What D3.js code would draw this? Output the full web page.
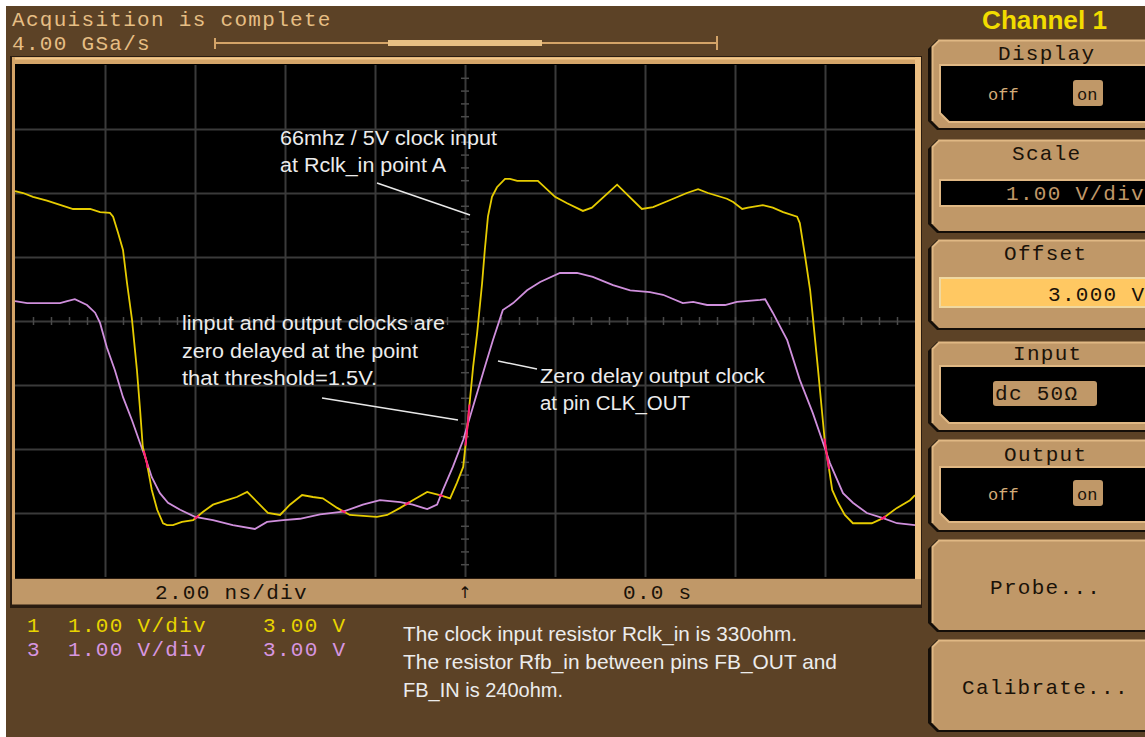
<!DOCTYPE html>
<html>
<head>
<meta charset="utf-8">
<script src="https://cdn.jsdelivr.net/npm/d3@7"></script>
<style>
  html, body { margin: 0; padding: 0; background: #5c4226; }
  svg { display: block; }
  .mono { font-family: "Liberation Mono", "DejaVu Sans Mono", monospace; font-size: 21px; letter-spacing: 1.3px; }
  .note { font-family: "Liberation Sans", Arial, sans-serif; fill: #ececec; }
</style>
</head>
<body>
<div id="scope"></div>
<script>
// channel 1 (yellow) - time in ns, level in V
const ch1Time = [-10.00,-9.82,-9.60,-9.29,-8.93,-8.71,-8.33,-8.11,-7.89,-7.82,-7.71,-7.60,-7.51,-7.40,-7.29,-7.22,-7.16,-7.07,-6.96,-6.84,
  -6.71,-6.62,-6.49,-6.29,-6.04,-5.82,-5.60,-5.29,-5.07,-4.84,-4.60,-4.38,-4.11,-3.89,-3.62,-3.38,-3.16,-2.84,-2.56,-1.96,
  -1.73,-1.44,-1.16,-0.84,-0.56,-0.33,-0.18,-0.04,0.04,0.11,0.18,0.27,0.38,0.44,0.51,0.60,0.71,0.89,1.00,1.16,
  1.62,2.00,2.27,2.62,2.82,3.38,3.93,4.18,4.56,4.93,5.18,5.40,5.82,5.96,6.16,6.29,6.62,6.84,7.07,7.38,
  7.44,7.56,7.67,7.73,7.84,7.93,8.00,8.07,8.16,8.29,8.44,8.62,9.04,9.29,9.60,9.89,10.00];
const ch1Volts = [5.03,5.00,4.94,4.88,4.80,4.75,4.75,4.70,4.69,4.63,4.38,4.11,3.59,3.02,2.23,1.61,1.03,0.78,0.36,0.05,
  -0.16,-0.19,-0.19,-0.14,-0.11,0.02,0.13,0.20,0.25,0.33,0.16,0.00,-0.03,0.13,0.28,0.25,0.23,0.08,-0.03,-0.06,
  -0.03,0.08,0.20,0.33,0.28,0.23,0.47,0.72,1.25,1.77,2.28,2.81,3.59,4.11,4.63,4.94,5.09,5.22,5.22,5.19,
  5.19,4.94,4.84,4.72,4.77,5.13,4.75,4.78,4.89,5.00,5.06,5.00,4.91,4.86,4.75,4.77,4.81,4.77,4.70,4.63,
  4.53,4.00,3.48,3.06,2.28,1.61,1.09,0.78,0.36,0.16,-0.03,-0.16,-0.16,-0.08,0.08,0.20,0.28];

// channel 3 (violet)
const ch3Time = [-10.00,-9.73,-9.00,-8.84,-8.67,-8.40,-8.22,-8.11,-7.96,-7.78,-7.60,-7.40,-7.22,-7.11,-6.96,-6.78,-6.60,-6.33,-6.00,-5.60,
  -5.16,-4.67,-4.40,-4.04,-3.67,-3.22,-2.71,-2.27,-1.89,-1.44,-1.16,-0.84,-0.62,-0.49,-0.27,-0.04,0.11,0.27,0.44,0.62,
  0.84,1.07,1.38,1.67,2.11,2.49,2.84,3.29,3.67,4.11,4.40,4.84,5.07,5.38,5.78,6.04,6.56,6.67,6.84,7.16,
  7.44,7.73,7.96,8.11,8.40,8.62,8.93,9.29,9.60,10.00];
const ch3Volts = [3.31,3.28,3.28,3.31,3.34,3.25,3.13,2.97,2.59,2.23,1.81,1.45,1.09,0.88,0.56,0.31,0.16,0.05,-0.06,-0.11,
  -0.19,-0.25,-0.14,-0.11,-0.09,-0.02,0.02,0.13,0.20,0.17,0.13,0.06,0.13,0.36,0.72,1.14,1.50,1.88,2.28,2.70,
  3.17,3.28,3.48,3.61,3.75,3.75,3.69,3.56,3.48,3.45,3.41,3.28,3.30,3.25,3.25,3.30,3.33,3.34,3.13,2.70,
  2.08,1.56,1.09,0.78,0.31,0.16,0.00,-0.08,-0.16,-0.19];

// graticule
const timeDomain = [-10, 10];   // 2 ns/div, 10 div
const voltDomain = [-1, 7];     // 1 V/div, offset 3 V, 8 div
const gridTimes = [-8, -6, -4, -2, 0, 2, 4, 6, 8];
const gridVolts = [0, 1, 2, 3, 4, 5, 6];

// text
const headerLines = ['Acquisition is complete', '4.00 GSa/s'];
const clockNote = ['66mhz / 5V clock input', 'at Rclk_in point A'];
const delayNote = ['linput and output clocks are', 'zero delayed at the point', 'that threshold=1.5V.'];
const outNote = ['Zero delay output clock', 'at pin CLK_OUT'];
const bottomNote = ['The clock input resistor Rclk_in is 330ohm.', 'The resistor Rfb_in between pins FB_OUT and', 'FB_IN is 240ohm.'];
const channelRows = [['1', '1.00 V/div', '3.00 V'], ['3', '1.00 V/div', '3.00 V']];

const brown = '#5c4226', tan = '#c09868', tanLight = '#e0b884', ink = '#1a1208';
const yellow = '#e6cc00', violet = '#cf8fdc';

const svg = d3.select('#scope').append('svg').attr('width', 1145).attr('height', 737);
svg.append('rect').attr('width', 1145).attr('height', 737).attr('fill', brown);
svg.append('rect').attr('width', 1145).attr('height', 6).attr('fill', '#fff');
svg.append('rect').attr('width', 6).attr('height', 737).attr('fill', '#fff');

// header text + memory bar
svg.selectAll('.hdr').data(headerLines).enter().append('text')
  .attr('class', 'mono hdr').attr('x', 12).attr('y', (d, i) => 26 + i * 24)
  .attr('fill', '#e6be84').text(d => d);
svg.append('line').attr('x1', 215).attr('x2', 717).attr('y1', 43).attr('y2', 43).attr('stroke', '#d4a468').attr('stroke-width', 2);
svg.append('line').attr('x1', 215).attr('x2', 215).attr('y1', 38).attr('y2', 49).attr('stroke', '#d4a468').attr('stroke-width', 2);
svg.append('line').attr('x1', 717).attr('x2', 717).attr('y1', 36).attr('y2', 50).attr('stroke', '#d4a468').attr('stroke-width', 2);
svg.append('rect').attr('x', 388).attr('y', 40).attr('width', 154).attr('height', 6).attr('fill', '#e8c084');

// screen frame
svg.append('rect').attr('x', 10).attr('y', 56).attr('width', 912).attr('height', 552).attr('fill', '#2a1c10');
svg.append('rect').attr('x', 12).attr('y', 57).attr('width', 909).attr('height', 7).attr('fill', '#d4a468');
svg.append('line').attr('x1', 12).attr('x2', 921).attr('y1', 58.5).attr('y2', 58.5).attr('stroke', '#f2c88c').attr('stroke-width', 2);
svg.append('rect').attr('x', 12).attr('y', 57).attr('width', 3).attr('height', 522).attr('fill', '#d4a468');
svg.append('rect').attr('x', 915).attr('y', 57).attr('width', 6).attr('height', 548).attr('fill', '#ecbf82');

const x = d3.scaleLinear().domain(timeDomain).range([15, 915]);
const y = d3.scaleLinear().domain(voltDomain).range([577, 65]);

const screen = svg.append('g');
screen.append('rect').attr('x', 15).attr('y', 64).attr('width', 900).attr('height', 514).attr('fill', '#000');

// grid via axes
screen.append('g').attr('transform', 'translate(0,577)')
  .call(d3.axisBottom(x).tickValues(gridTimes).tickSize(-512).tickFormat(''))
  .call(g => g.select('.domain').remove())
  .call(g => g.selectAll('line').attr('stroke', '#3a3a3a').attr('stroke-width', 2));
screen.append('g').attr('transform', 'translate(15,0)')
  .call(d3.axisLeft(y).tickValues(gridVolts).tickSize(-900).tickFormat(''))
  .call(g => g.select('.domain').remove())
  .call(g => g.selectAll('line').attr('stroke', '#3a3a3a').attr('stroke-width', 2));

// minor ticks on the centre axes
const minorT = d3.range(-9.6, 10, 0.4);
const minorV = d3.range(-0.8, 7, 0.2);
[d3.axisTop, d3.axisBottom].forEach(ax => {
  screen.append('g').attr('transform', `translate(0,${y(3)})`)
    .call(ax(x).tickValues(minorT).tickSize(4).tickFormat(''))
    .call(g => g.select('.domain').remove())
    .call(g => g.selectAll('line').attr('stroke', '#4a4a4a').attr('stroke-width', 1.5));
});
[d3.axisLeft, d3.axisRight].forEach(ax => {
  screen.append('g').attr('transform', `translate(${x(0)},0)`)
    .call(ax(y).tickValues(minorV).tickSize(4).tickFormat(''))
    .call(g => g.select('.domain').remove())
    .call(g => g.selectAll('line').attr('stroke', '#4a4a4a').attr('stroke-width', 1.5));
});

// traces
const ch1 = ch1Time.map((t, i) => [t, ch1Volts[i]]);
const ch3 = ch3Time.map((t, i) => [t, ch3Volts[i]]);
const line = d3.line().x(d => x(d[0])).y(d => y(d[1]));
screen.append('path').attr('d', line(ch3)).attr('fill', 'none').attr('stroke', violet).attr('stroke-width', 1.8);
screen.append('path').attr('d', line(ch1)).attr('fill', 'none').attr('stroke', yellow).attr('stroke-width', 1.8);

// where the traces overlap the scope paints them magenta
function at(ts, vs, t) {
  const i = Math.max(1, Math.min(ts.length - 1, d3.bisectLeft(ts, t)));
  const k = (t - ts[i - 1]) / (ts[i] - ts[i - 1]);
  return vs[i - 1] + k * (vs[i] - vs[i - 1]);
}
const steps = d3.range(-10, 10, 0.005);
let prev = null;
steps.forEach(t => {
  const d = at(ch1Time, ch1Volts, t) - at(ch3Time, ch3Volts, t);
  if (prev !== null && Math.sign(d) !== Math.sign(prev)) {
    const seg = d3.range(t - 0.05, t + 0.05, 0.01).map(s => [s, at(ch1Time, ch1Volts, s)]);
    screen.append('path').attr('d', line(seg)).attr('fill', 'none').attr('stroke', '#ff1a78').attr('stroke-width', 2);
  }
  prev = d;
});

// annotations
function noteBlock(lines, x0, y0, gap, size, widths, parent) {
  parent.selectAll(null).data(lines).enter().append('text')
    .attr('class', 'note').attr('x', x0).attr('y', (d, i) => y0 + i * gap)
    .attr('font-size', size)
    .attr('textLength', (d, i) => widths[i]).attr('lengthAdjust', 'spacingAndGlyphs')
    .text(d => d);
}
noteBlock(clockNote, 280, 145, 27, 20, [217, 166], screen);
noteBlock(delayNote, 182, 330, 27.5, 20, [263, 236, 195], screen);
noteBlock(outNote, 540, 383, 27, 20, [225, 150], screen);
const pointers = [[377, 183, 470, 215], [322, 398, 458, 420], [498, 361, 537, 369]];
screen.selectAll('.ptr').data(pointers).enter().append('line').attr('class', 'ptr')
  .attr('x1', d => d[0]).attr('y1', d => d[1]).attr('x2', d => d[2]).attr('y2', d => d[3])
  .attr('stroke', '#e8e8e8').attr('stroke-width', 1.5);

// time bar
svg.append('rect').attr('x', 12).attr('y', 579).attr('width', 909).attr('height', 26).attr('fill', tan);
svg.append('line').attr('x1', 10).attr('x2', 921).attr('y1', 605.5).attr('y2', 605.5).attr('stroke', '#2a1c10').attr('stroke-width', 2);
svg.append('text').attr('class', 'mono').attr('x', 155).attr('y', 599).attr('fill', ink).text('2.00 ns/div');
svg.append('text').attr('x', x(0)).attr('y', 598).attr('text-anchor', 'middle').attr('fill', ink)
  .attr('font-family', 'DejaVu Sans').attr('font-size', 16).text('\u2191');
svg.append('text').attr('class', 'mono').attr('x', 623).attr('y', 599).attr('fill', ink).text('0.0 s');

// channel legend
const rowColors = ['#e8d400', '#d896e0'];
channelRows.forEach((r, i) => {
  const g = svg.append('g').attr('fill', rowColors[i]);
  g.append('text').attr('class', 'mono').attr('x', 27).attr('y', 632 + i * 24).text(r[0]);
  g.append('text').attr('class', 'mono').attr('x', 68).attr('y', 632 + i * 24).text(r[1]);
  g.append('text').attr('class', 'mono').attr('x', 263).attr('y', 632 + i * 24).text(r[2]);
});
noteBlock(bottomNote, 403, 641, 28, 21, [394, 434, 160], svg);

// right hand panel
const panel = svg.append('g');
panel.append('text').attr('x', 982).attr('y', 29).attr('fill', '#f2dc00')
  .attr('font-family', 'Liberation Sans, Arial, sans-serif').attr('font-weight', 'bold')
  .attr('font-size', 26).attr('textLength', 125).attr('lengthAdjust', 'spacingAndGlyphs').text('Channel 1');

function button(y0, y1) {
  panel.append('path').attr('d', `M928,${y0 + 9} L937,${y0} L1145,${y0} L1145,${y1 + 2} L937,${y1 + 2} L928,${y1 - 7} Z`).attr('fill', '#140e08');
  panel.append('path').attr('d', `M932,${y0 + 7} L939,${y0} L1145,${y0} L1145,${y1} L939,${y1} L932,${y1 - 7} Z`).attr('fill', tan);
  panel.append('path').attr('d', `M932.5,${y1 - 7} L932.5,${y0 + 7} L939,${y0 + 0.5} L1145,${y0 + 0.5}`).attr('fill', 'none').attr('stroke', tanLight).attr('stroke-width', 2);
}
function well(y0, y1) {
  panel.append('path').attr('d', `M940,${y0} L1146,${y0} L1146,${y1} L949,${y1} L940,${y1 - 9} Z`)
    .attr('fill', '#000').attr('stroke', tanLight).attr('stroke-width', 2);
}
function label(txt, x0, y0, fill, cls) {
  panel.append('text').attr('class', cls || 'mono').attr('x', x0).attr('y', y0).attr('fill', fill || ink).text(txt);
}
function onOff(y0) {
  panel.append('text').attr('x', 988).attr('y', y0).attr('fill', '#d4ac78')
    .attr('font-family', 'Liberation Mono, monospace').attr('font-size', 17).text('off');
  panel.append('rect').attr('x', 1073).attr('y', y0 - 20).attr('width', 30).attr('height', 26).attr('rx', 3).attr('fill', tan);
  panel.append('text').attr('x', 1077).attr('y', y0).attr('fill', ink)
    .attr('font-family', 'Liberation Mono, monospace').attr('font-size', 17).text('on');
}

button(40, 128); label('Display', 998, 60); well(65, 122); onOff(100);
button(140, 231); label('Scale', 1012, 160);
panel.append('rect').attr('x', 940).attr('y', 180).attr('width', 206).attr('height', 26).attr('fill', '#000').attr('stroke', tanLight).attr('stroke-width', 2);
label('1.00 V/div', 1006, 200, tan);
button(240, 328); label('Offset', 1004, 260);
panel.append('rect').attr('x', 940).attr('y', 278).attr('width', 206).attr('height', 29).attr('fill', '#ffc862').attr('stroke', '#f0d8a0').attr('stroke-width', 2);
label('3.000 V', 1048, 301);
button(342, 430); label('Input', 1013, 360); well(366, 423);
panel.append('rect').attr('x', 993).attr('y', 381).attr('width', 104).attr('height', 25).attr('rx', 3).attr('fill', tan);
label('dc 50\u03a9', 995, 400);
button(440, 530); label('Output', 1004, 461); well(467, 522); onOff(500);
button(540, 630); label('Probe...', 990, 594);
button(640, 730); label('Calibrate...', 962, 694);
</script>
</body>
</html>
